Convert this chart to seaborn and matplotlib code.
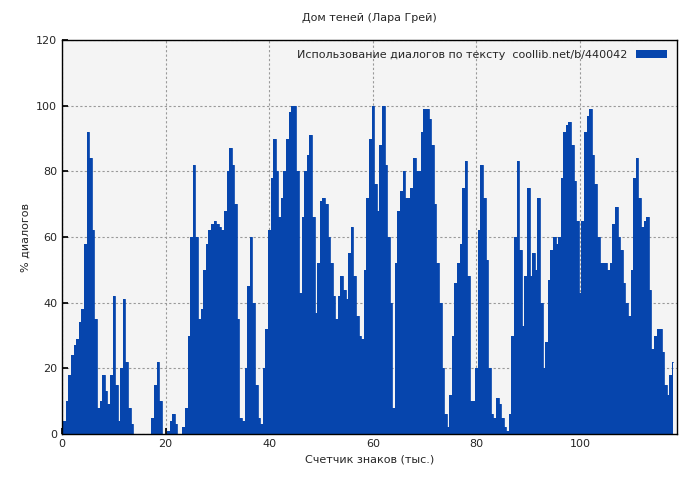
import numpy as np
import matplotlib
matplotlib.use("Agg")
import matplotlib.pyplot as plt
import seaborn as sns
import pandas as pd

x_start = 0.0
x_step = 0.5
values = [1,4,10,18,24,27,29,34,38,58,92,84,62,35,8,10,18,13,9,18,42,15,4,20,41,22,8,3,0,
          0,0,0,0,0,0,5,15,22,10,0,0,1,4,6,3,0,0,2,8,30,60,82,60,35,38,50,58,62,64,65,64,63,62,68,80,87,82,70,35,5,4,20,45,60,40,15,5,3,20,32,
          62,78,90,80,66,72,80,90,98,100,100,80,43,66,80,85,91,66,37,52,71,72,70,60,52,42,35,42,48,44,41,55,63,48,36,30,29,50,72,90,
          100,76,68,88,100,82,60,40,8,52,68,74,80,72,72,75,84,80,80,92,99,99,96,88,70,52,40,20,6,2,12,30,46,52,58,75,83,
          48,10,10,20,62,82,72,53,20,6,5,11,9,5,2,1,6,30,60,83,56,33,48,75,48,55,50,72,40,20,28,47,56,60,58,60,78,92,94,95,88,77,65,
          43,65,92,97,99,85,76,60,52,52,52,50,52,64,69,60,56,46,40,36,50,78,84,72,63,65,66,44,26,30,32,32,25,15,12,18,22]
xs = x_start + x_step*np.arange(len(values))
df = pd.DataFrame({"x": xs, "y": values})

sns.set_theme(style="white")
plt.rcParams['font.family'] = ['DejaVu Sans']
fig = plt.figure(figsize=(7, 4.8), dpi=100)
ax = fig.add_axes([62/700, 1-434/480, 615/700, 394/480])
ax.set_facecolor("#f4f4f4")
blue = "#0645ad"
ax.fill_between(df["x"], 0, df["y"], step="mid", color=blue, linewidth=0, label="Использование диалогов по тексту  coollib.net/b/440042")
sns.lineplot(data=df, x="x", y="y", ax=ax, drawstyle="steps-mid", color=blue, linewidth=0.6)
ax.set_xlim(0, 118.7)
ax.set_ylim(0, 120)
ax.set_xticks([0,20,40,60,80,100])
ax.set_yticks([0,20,40,60,80,100,120])
ax.grid(True, color="#999999", linestyle=(0,(2,2)), linewidth=0.8)
ax.set_axisbelow(True)
for s in ax.spines.values():
    s.set_color("black"); s.set_linewidth(1)
ax.tick_params(labelsize=8, length=4, direction="in", color="black", left=True, bottom=True)
ax.set_xlabel("Счетчик знаков (тыс.)", fontsize=8)
ax.set_ylabel("% диалогов", fontsize=8)
ax.set_title("Дом теней (Лара Грей)", fontsize=8, pad=14)
ax.legend(loc="upper right", fontsize=8, frameon=False, handlelength=2.8, markerfirst=False)
fig.savefig("out.png", dpi=100)
